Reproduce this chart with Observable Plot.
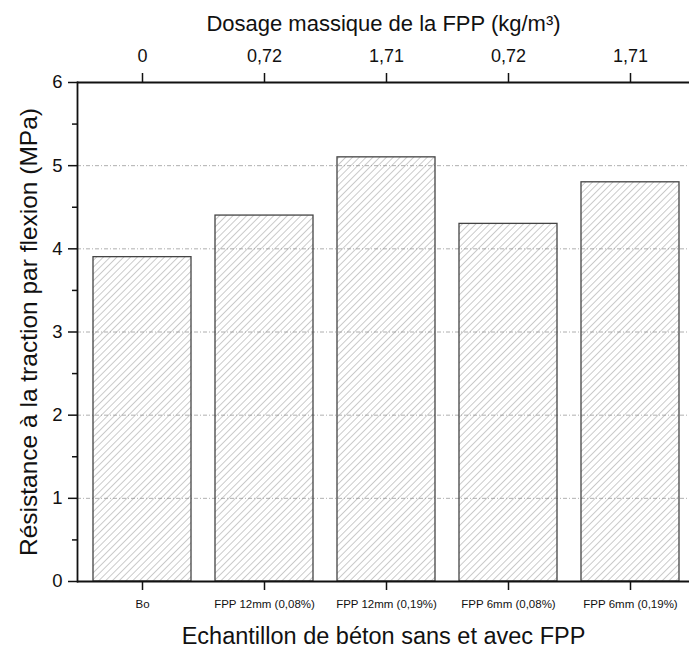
<!DOCTYPE html>
<html>
<head>
<meta charset="utf-8">
<script src="https://cdn.jsdelivr.net/npm/d3@7"></script>
<script src="https://cdn.jsdelivr.net/npm/@observablehq/plot@0.6"></script>
<style>
  html, body { margin: 0; padding: 0; background: #fff; overflow: hidden; }
  #chart svg { overflow: hidden !important; }
</style>
</head>
<body>
<div id="chart"></div>
<script>
const samples = ["Bo", "FPP 12mm (0,08%)", "FPP 12mm (0,19%)", "FPP 6mm (0,08%)", "FPP 6mm (0,19%)"];
const resistance = [3.9, 4.4, 5.1, 4.3, 4.8];
const dosage = ["0", "0,72", "1,71", "0,72", "1,71"];
const yMajor = [0, 1, 2, 3, 4, 5, 6];
const yMinor = [0.5, 1.5, 2.5, 3.5, 4.5, 5.5];
const yGrid = [1, 2, 3, 4, 5];

const data = samples.map((s, i) => ({sample: s, value: resistance[i]}));
const font = "Liberation Sans, Arial, sans-serif";

const plot = Plot.plot({
  width: 689,
  height: 648,
  marginLeft: 77,
  marginTop: 82,
  marginBottom: 67,
  marginRight: 0,
  style: {fontFamily: font, color: "#111", background: "#fff"},
  x: {domain: samples, range: [77, 695], paddingInner: 0.195, paddingOuter: 0.11, align: 0.5},
  y: {domain: [0, 6]},
  marks: [
    Plot.ruleY(yGrid, {y: d => d, stroke: "#9a9a9a", strokeWidth: 0.8, strokeDasharray: "4,2,1,2"}),
    Plot.barY(data, {x: "sample", y: "value", fill: "url(#hatch)", stroke: "#444", strokeWidth: 1.3}),
    Plot.ruleY([0, 6], {stroke: "#111", strokeWidth: 1.8}),
    Plot.frame({anchor: "left", stroke: "#111", strokeWidth: 1.8}),
    Plot.axisX({anchor: "bottom", label: null, tickSize: 9, tickPadding: 9, fontSize: 11.5, strokeWidth: 1.5}),
    Plot.axisX({anchor: "top", label: null, tickSize: 10, tickPadding: 11, fontSize: 18, strokeWidth: 1.5,
      tickFormat: d => dosage[samples.indexOf(d)]}),
    Plot.axisY({ticks: yMajor, label: null, tickSize: 9, tickPadding: 6, fontSize: 18.5, strokeWidth: 1.5, tickFormat: d => String(d)}),
    Plot.axisY({ticks: yMinor, label: null, tickSize: 5, tickFormat: () => "", strokeWidth: 1.5}),
    Plot.text(["Echantillon de béton sans et avec FPP"], {frameAnchor: "bottom", lineAnchor: "middle", dy: 55, fontSize: 23.5, fill: "#111"}),
    Plot.text(["Dosage massique de la FPP (kg/m³)"], {frameAnchor: "top", lineAnchor: "middle", dy: -59, fontSize: 22, fill: "#111"}),
    Plot.text(["Résistance à la traction par flexion (MPa)"], {frameAnchor: "left", textAnchor: "middle", dx: -48, rotate: -90, fontSize: 24.5, fill: "#111"})
  ]
});

const ns = "http://www.w3.org/2000/svg";
const defs = document.createElementNS(ns, "defs");
defs.innerHTML = `<pattern id="hatch" patternUnits="userSpaceOnUse" width="4.8" height="4.8" patternTransform="rotate(45)">
  <line x1="0" y1="0" x2="0" y2="4.8" stroke="#8a8a8a" stroke-width="0.9"/>
</pattern>`;
plot.insertBefore(defs, plot.firstChild);
document.getElementById("chart").appendChild(plot);
</script>
</body>
</html>
